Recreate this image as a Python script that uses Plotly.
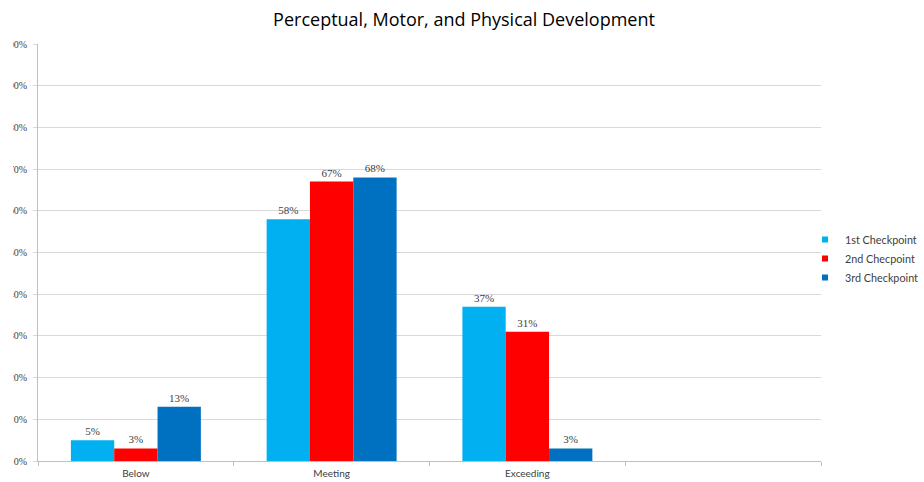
import plotly.graph_objects as go

categories = ["Below", "Meeting", "Exceeding", " "]
series_names = ["1st Checkpoint", "2nd Checpoint", "3rd Checkpoint"]
first_cp = [0.05, 0.58, 0.37, None]
second_cp = [0.03, 0.67, 0.31, None]
third_cp = [0.13, 0.68, 0.03, None]
colors = ["#00B0F0", "#FF0000", "#0070C0"]
y_tickvals = [0, 0.1, 0.2, 0.3, 0.4, 0.5, 0.6, 0.7, 0.8, 0.9, 1.0]
y_ticktext = ["0%", "10%", "20%", "30%", "40%", "50%", "60%", "70%", "80%", "90%", "100%"]

L, R, T, B = 38, 103, 44, 21
W, H = 924, 482
pw = W - L - R
ph = H - T - B
SERIF = "Liberation Serif, Times New Roman, serif"

fig = go.Figure()
for name, vals, col in zip(series_names, [first_cp, second_cp, third_cp], colors):
    fig.add_trace(go.Bar(
        x=categories, y=vals, name=name, marker_color=col, marker_line_width=0,
        text=["" if v is None else f"{round(v*100)}%" for v in vals],
        textposition="outside", cliponaxis=False,
        textfont=dict(family=SERIF, size=11, color="#404040"),
        showlegend=False,
    ))
    fig.add_trace(go.Scatter(
        x=[None], y=[None], mode="markers", name=name,
        marker=dict(symbol="square", size=6, color=col),
    ))

fig.update_layout(
    width=W, height=H,
    margin=dict(l=L, r=R, t=T, b=B, autoexpand=False),
    paper_bgcolor="white", plot_bgcolor="white",
    barmode="group", bargap=0.336, bargroupgap=0,
    title=dict(text="Perceptual, Motor, and Physical Development",
               x=464 / W, xanchor="center", y=1 - 20 / H, yanchor="middle",
               xref="container", yref="container",
               font=dict(family="Open Sans", size=18, color="#000000")),
    legend=dict(x=1 + (805 - 821) / pw, xanchor="left", y=0.5 - 6 / ph, yanchor="middle",
                font=dict(family="Lato", size=10.8, color="#404040"),
                itemwidth=30, tracegroupgap=0, bgcolor="rgba(0,0,0,0)"),
    showlegend=True,
    xaxis=dict(type="category", categoryorder="array", categoryarray=categories,
               range=[-0.5, 3.5], tickson="boundaries", ticks="outside", ticklen=4,
               tickcolor="#BFBFBF", showline=True, linecolor="#BFBFBF", linewidth=1,
               showgrid=False, tickfont=dict(family="Lato", size=10, color="#404040"),
               ticklabelstandoff=3, fixedrange=True, automargin=False),
    yaxis=dict(range=[0, 1], tickvals=y_tickvals, ticktext=y_ticktext,
               showgrid=True, gridcolor="#D9D9D9", gridwidth=1,
               ticks="outside", ticklen=4, tickcolor="#D9D9D9",
               showline=True, linecolor="#BFBFBF", linewidth=1,
               zeroline=False, ticklabelstandoff=4,
               tickfont=dict(family=SERIF, size=10, color="#404040"),
               fixedrange=True, automargin=False),
    shapes=[dict(type="rect", xref="paper", yref="paper",
                 x0=(-5 - L) / pw, x1=(13 - L) / pw, y0=-0.2, y1=1.2,
                 fillcolor="white", line=dict(width=0), layer="above")],
)

fig.write_html("out.html", config={"displayModeBar": False},
               post_script="document.body.style.margin='0';document.body.style.overflow='hidden';")
